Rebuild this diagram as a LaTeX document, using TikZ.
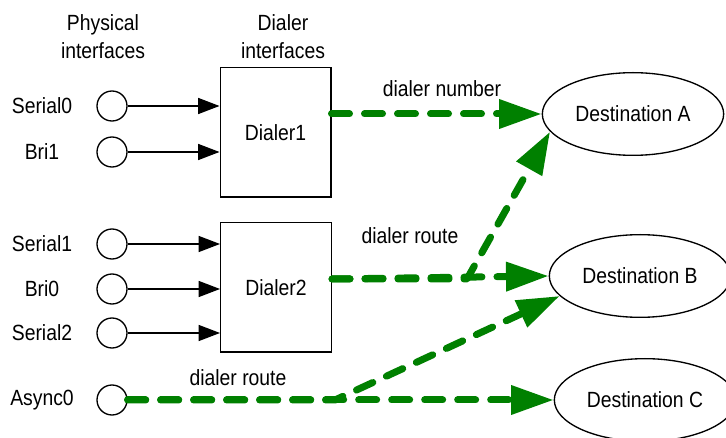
\documentclass[tikz,border=0pt]{standalone}
\usepackage{fontspec}
\setmainfont{Liberation Sans}[FakeStretch=0.88]
\usetikzlibrary{arrows.meta,positioning,shapes.geometric}
\definecolor{routegreen}{HTML}{008000}
\tikzset{link/.style={-{Triangle[length=16pt,width=12pt]},line width=1pt},
  route/.style={-{Triangle[length=32pt,width=21pt]},line width=5.25pt,draw=routegreen,line cap=round,line join=round,dash pattern=on 13.5pt off 11.25pt},
  port/.style={circle,draw,line width=1pt,minimum size=22.5pt,inner sep=0pt},
  dialer/.style={draw,line width=1pt,minimum width=83pt,minimum height=97pt},
  dest/.style={ellipse,draw,line width=1pt,minimum width=136pt,minimum height=62pt,inner sep=0pt}}

\begin{document}
\begin{tikzpicture}[x=0.75pt,y=-0.75pt,font=\fontsize{16.5pt}{21pt}\selectfont]
\useasboundingbox (0,0) rectangle (726,438);
\clip (0,0) rectangle (726,438);
\node[align=center] (physhead) at (103,37) {Physical\\interfaces};
\node[align=center] (dialhead) at (283,37) {Dialer\\interfaces};
% physical ports
\node[port] (serial0) at (112,106) {};
\node[port] (bri1) at (112,152) {};
\node[port] (serial1) at (112,244) {};
\node[port] (bri0) at (112,289) {};
\node[port] (serial2) at (112,333) {};
\node[port] (async0) at (112,400) {};
\node (serial0lbl) at (42,106) {Serial0};
\node (bri1lbl) at (42,152) {Bri1};
\node (serial1lbl) at (42,244) {Serial1};
\node (bri0lbl) at (42,289) {Bri0};
\node (serial2lbl) at (42,333) {Serial2};
\node (async0lbl) at (42,400) {Async0};
% dialer interfaces
\node[dialer] (dialer1) at (275.5,132.5) {Dialer1};
\node[dialer] (dialer2) at (276,287.5) {Dialer2};
% destinations
\node[dest] (desta) at (633,114) {Destination A};
\node[dest] (destb) at (640,276) {Destination B};
\node[dest] (destc) at (645,400) {Destination C};
\draw[link] (serial0) -- (serial0 -| dialer1.west);
\draw[link] (bri1) -- (bri1 -| dialer1.west);
\draw[link] (serial1) -- (serial1 -| dialer2.west);
\draw[link] (bri0) -- (bri0 -| dialer2.west);
\draw[link] (serial2) -- (serial2 -| dialer2.west);
% routes
\coordinate (fork1) at (467,279);
\coordinate (fork2) at (335,400);
\draw[route] (dialer1.east |- desta.west) -- (desta.west);
\draw[route] (dialer2.east |- fork1) -- (destb.west);
\draw[route] (dialer2.east |- fork1) -- (fork1) -- (desta.192);
\draw[route] (async0.east) -- (destc.west);
\draw[route] (async0.east) -- (fork2) -- (destb.194);
\node (numlbl) at (442,89) {dialer number};
\node (routelbl1) at (410,236) {dialer route};
\node (routelbl2) at (238,378) {dialer route};
\end{tikzpicture}
\end{document}
